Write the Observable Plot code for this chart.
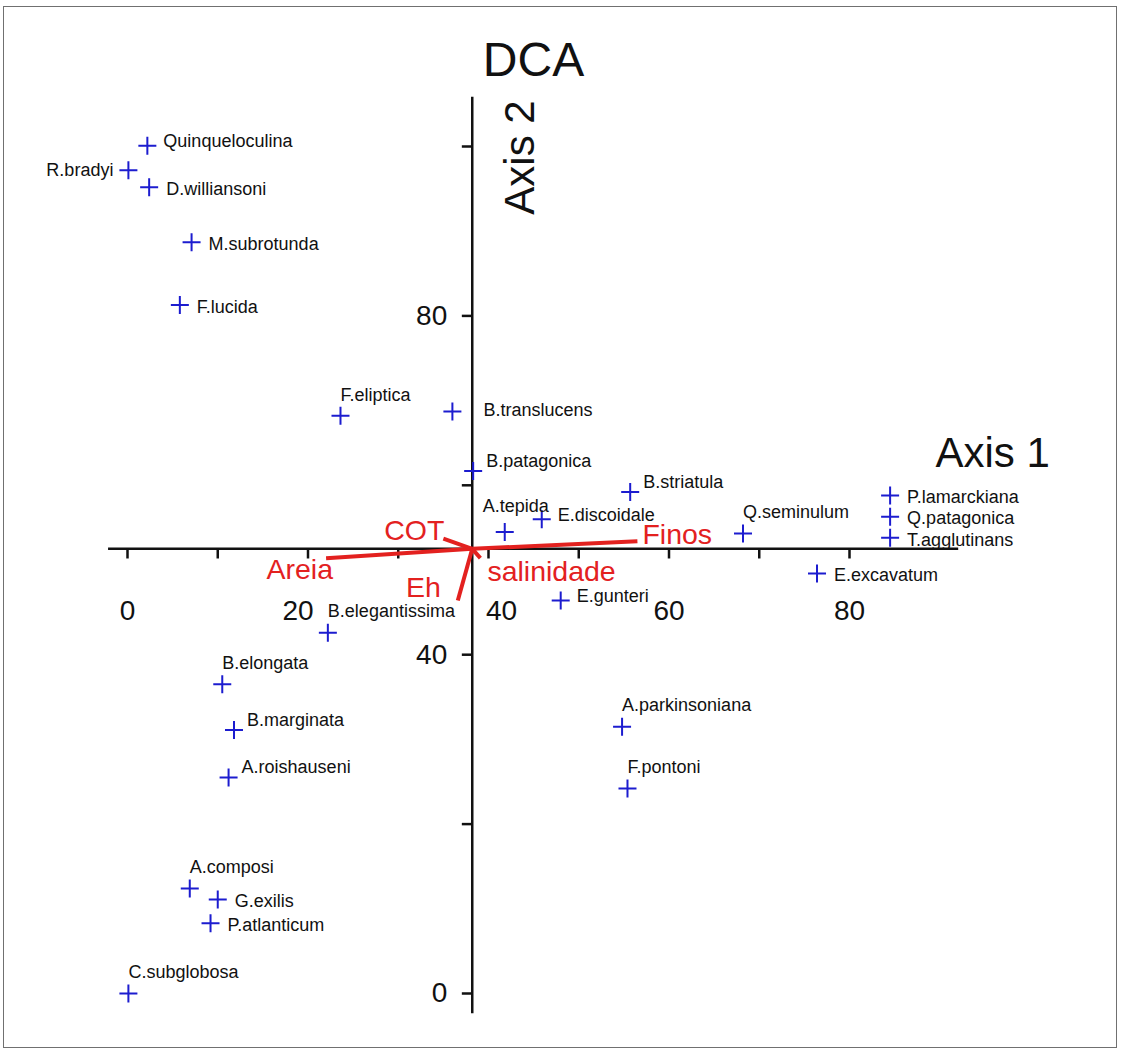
<!DOCTYPE html>
<html>
<head>
<meta charset="utf-8">
<script src="https://cdn.jsdelivr.net/npm/d3@7"></script>
<script src="https://cdn.jsdelivr.net/npm/@observablehq/plot@0.6"></script>
<style>
  body { margin: 0; background: #fff; }
  #wrap { position: relative; width: 1123px; height: 1051px; overflow: hidden; }
  #border { position: absolute; left: 3px; top: 6px; width: 1112px; height: 1040px; border: 1.5px solid #707070; pointer-events: none; }
</style>
</head>
<body>
<div id="wrap"><div id="chart"></div><div id="border"></div></div>
<script>
// ---- data ----
const species = ["Quinqueloculina","R.bradyi","D.williansoni","M.subrotunda","F.lucida","F.eliptica","B.translucens","B.patagonica","A.tepida","E.discoidale","B.striatula","Q.seminulum","P.lamarckiana","Q.patagonica","T.agglutinans","E.excavatum","E.gunteri","B.elegantissima","B.elongata","B.marginata","A.roishauseni","A.parkinsoniana","F.pontoni","A.composi","G.exilis","P.atlanticum","C.subglobosa"];
const axis1 = [2.2, 0.1, 2.4, 7.1, 5.8, 23.6, 36.0, 38.3, 41.8, 45.9, 55.7, 68.2, 84.5, 84.5, 84.5, 76.4, 48.0, 22.2, 10.5, 11.8, 11.2, 54.8, 55.4, 6.9, 10.0, 9.2, 0.1];
const axis2 = [100.1, 97.2, 95.2, 88.7, 81.3, 68.2, 68.7, 61.7, 54.5, 56.0, 59.2, 54.3, 58.8, 56.3, 53.8, 49.6, 46.4, 42.6, 36.5, 31.1, 25.5, 31.5, 24.2, 12.4, 11.1, 8.3, 0.0];

const envVars = ["Areia","COT","Eh","salinidade","Finos"];
const envAxis1 = [22.0, 35.0, 36.6, 39.1, 56.5];
const envAxis2 = [51.4, 53.7, 46.4, 51.4, 53.4];
const origin = [38.2, 52.5];           // where the two axes cross

const xTickValues = [0,10,20,30,40,50,60,70,80];
const xTickLabels = [0,20,40,60,80];
const yTickValues = [0,20,40,60,80,100];
const yTickLabels = [0,40,80];
const xAxisExtent = [-2.1, 92.1];
const yAxisExtent = [-2.4, 105.8];

// ---- label placement groups (styling) ----
const placement = {
  above:     {dx: 0,   dy: -21, anchor: "start", names: ["F.eliptica","B.elegantissima","B.elongata","A.composi","C.subglobosa","A.parkinsoniana","F.pontoni","Q.seminulum"]},
  upRight:   {dx: 13,  dy: -10, anchor: "start", names: ["B.patagonica","B.striatula","B.marginata","A.roishauseni"]},
  nearRight: {dx: 16,  dy: -4,  anchor: "start", names: ["Quinqueloculina","E.discoidale","E.gunteri"]},
  right:     {dx: 17,  dy: 2,   anchor: "start", names: ["D.williansoni","M.subrotunda","F.lucida","P.lamarckiana","Q.patagonica","T.agglutinans","E.excavatum","G.exilis","P.atlanticum"]},
  farRight:  {dx: 31,  dy: -1,  anchor: "start", names: ["B.translucens"]},
  left:      {dx: -15, dy: 0,   anchor: "end",   names: ["R.bradyi"]},
  aboveLeft: {dx: -22, dy: -26, anchor: "start", names: ["A.tepida"]}
};
const envPlacement = {
  Areia:      {dx: 7,   dy: 12,  anchor: "end"},
  COT:        {dx: 1,   dy: -8,  anchor: "end"},
  Eh:         {dx: -17, dy: -13, anchor: "end"},
  salinidade: {dx: 7,   dy: 14,  anchor: "start"},
  Finos:      {dx: 5,   dy: -6,  anchor: "start"}
};

const font = "'Liberation Sans', Arial, Helvetica, sans-serif";
const blue = "#1c1ccf";
const red = "#e3211f";
const ink = "#111";

const crossSymbol = {
  draw(context, size) {
    const r = Math.sqrt(size / Math.PI);
    context.moveTo(-r, 0); context.lineTo(r, 0);
    context.moveTo(0, -r); context.lineTo(0, r);
  }
};

const idx = species.map((_, i) => i);
const envIdx = envVars.map((_, i) => i);

const speciesLabelMarks = Object.values(placement).map(p =>
  Plot.text(idx.filter(i => p.names.includes(species[i])), {
    x: i => axis1[i], y: i => axis2[i], text: i => species[i],
    dx: p.dx, dy: p.dy, textAnchor: p.anchor, fontSize: 18, fill: ink
  })
);
const envLabelMarks = envIdx.map(i => {
  const p = envPlacement[envVars[i]];
  return Plot.text([i], {
    x: j => envAxis1[j], y: j => envAxis2[j], text: j => envVars[j],
    dx: p.dx, dy: p.dy, textAnchor: p.anchor, fontSize: 28.5, fill: red
  });
});

const tickLenY = 1.2;   // in axis-2 units
const tickLenX = 1.1;   // in axis-1 units

const chart = Plot.plot({
  width: 1123,
  height: 1051,
  marginLeft: 127,
  marginRight: 274,
  marginTop: 146,
  marginBottom: 58,
  x: {domain: [0, 80], axis: null},
  y: {domain: [0, 100], axis: null},
  style: {fontFamily: font, background: "transparent"},
  marks: [
    // axes crossing at origin
    Plot.ruleY([origin[1]], {y: d => d, x1: () => xAxisExtent[0], x2: () => xAxisExtent[1], stroke: ink, strokeWidth: 2.5}),
    Plot.ruleX([origin[0]], {x: d => d, y1: () => yAxisExtent[0], y2: () => yAxisExtent[1], stroke: ink, strokeWidth: 2.5}),
    Plot.ruleX(xTickValues, {x: d => d, y1: () => origin[1], y2: () => origin[1] - tickLenY, stroke: ink, strokeWidth: 2.5}),
    Plot.ruleY(yTickValues, {y: d => d, x1: () => origin[0] - tickLenX, x2: () => origin[0], stroke: ink, strokeWidth: 2.5}),
    Plot.text(xTickLabels.filter(d => d !== 20 && d !== 40), {x: d => d, y: () => origin[1], text: d => String(d), dy: 62, fontSize: 28, fill: ink}),
    Plot.text(xTickLabels.filter(d => d === 20), {x: d => d, y: () => origin[1], text: d => String(d), dy: 62, dx: -10, fontSize: 28, fill: ink}),
    Plot.text(xTickLabels.filter(d => d === 40), {x: d => d, y: () => origin[1], text: d => String(d), dy: 62, dx: 13, fontSize: 28, fill: ink}),
    Plot.text(yTickLabels, {x: () => origin[0], y: d => d, text: d => String(d), dx: -25, textAnchor: "end", fontSize: 28, fill: ink}),
    // environmental vectors
    Plot.link(envIdx, {x1: () => origin[0], y1: () => origin[1], x2: i => envAxis1[i], y2: i => envAxis2[i], stroke: red, strokeWidth: 4}),
    ...envLabelMarks,
    // species
    Plot.dot(idx, {x: i => axis1[i], y: i => axis2[i], symbol: crossSymbol, r: 9, stroke: blue, strokeWidth: 2, fill: "none"}),
    ...speciesLabelMarks,
    // titles
    Plot.text(["DCA"], {frameAnchor: "top", lineAnchor: "middle", text: d => d, dx: 45, dy: -86, fontSize: 48, fill: ink}),
    Plot.text(["Axis 2"], {x: () => origin[0], frameAnchor: "top", lineAnchor: "middle", text: d => d, dx: 48, dy: 11, rotate: -90, fontSize: 42, fill: ink}),
    Plot.text(["Axis 1"], {frameAnchor: "right", lineAnchor: "middle", text: d => d, textAnchor: "start", dx: 86, dy: -116.5, fontSize: 42, fill: ink})
  ]
});
document.getElementById("chart").appendChild(chart);
</script>
</body>
</html>
